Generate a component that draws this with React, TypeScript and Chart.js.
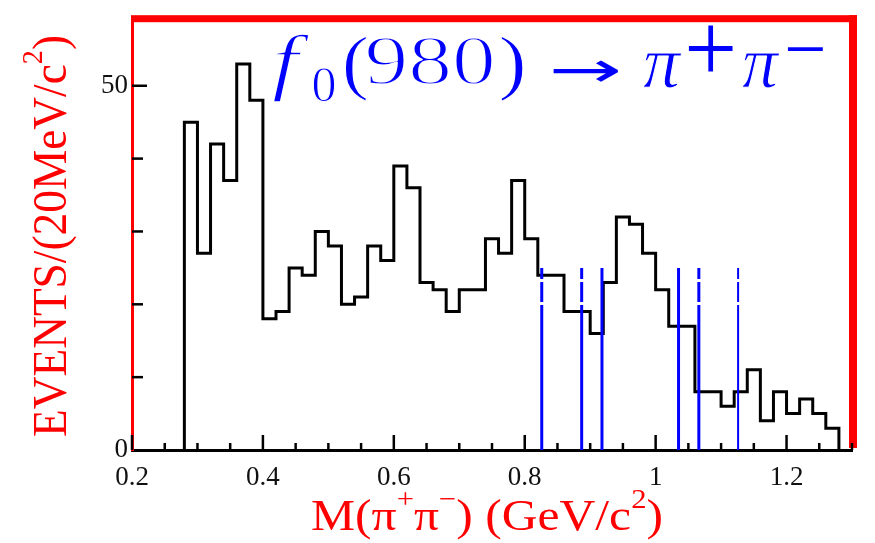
import React, { useEffect, useRef } from 'react';
import { Chart, registerables } from 'chart.js';

Chart.register(...registerables);

// ---- data ----
const binLow = 0.28;
const binWidth = 0.02;
const eventCounts = [
  45, 27, 42, 37, 53, 48, 18, 19, 25, 24,
  30, 28, 20, 21, 28, 26, 39, 36, 23, 22,
  19, 22, 22, 29, 27, 37, 29, 24, 24, 19,
  19, 16, 23, 32, 31, 27, 22, 17, 17, 8,
  8, 6, 8, 11, 4, 8, 5, 7, 5, 3,
];
const cutPositions = [0.826, 0.887, 0.918, 1.035, 1.066, 1.126];
const cutTops = [25, 25, 25, 25, 25, 25];
const cutDashed = [true, true, false, false, true, true];
const cutWidths = [3, 3, 3, 3, 3, 2];
const xTickValues = [0.2, 0.4, 0.6, 0.8, 1.0, 1.2];
const xTickLabels = ['0.2', '0.4', '0.6', '0.8', '1', '1.2'];
const yTickValues = [0, 50];
const yTickLabels = ['0', '50'];
const yMinorTicks = [0, 10, 20, 30, 40, 50];

const RED = '#ff0000';
const BLUE = '#0000ff';

const near = (a: number, b: number) => Math.abs(a - b) < 1e-6;

function xMinorTicks(): number[] {
  const out: number[] = [];
  for (let i = 0; i <= 22; i++) out.push(Math.round((0.2 + i * 0.05) * 1000) / 1000);
  return out;
}

function drawFit(
  ctx: CanvasRenderingContext2D,
  text: string,
  font: string,
  left: number,
  top: number,
  w?: number,
  h?: number,
  thin = 0
) {
  ctx.font = `${font.replace('SIZE', '100px')}`;
  const m = ctx.measureText(text);
  const mh = m.actualBoundingBoxAscent + m.actualBoundingBoxDescent;
  const mw = m.actualBoundingBoxLeft + m.actualBoundingBoxRight;
  const sy = h ? h / mh : w ? w / mw : 1;
  const sx = w ? w / mw : sy;
  ctx.save();
  ctx.translate(left, top);
  ctx.scale(sx, sy);
  ctx.textAlign = 'left';
  ctx.textBaseline = 'alphabetic';
  ctx.fillText(text, m.actualBoundingBoxLeft, m.actualBoundingBoxAscent);
  if (thin > 0) {
    ctx.strokeStyle = '#fff';
    ctx.lineWidth = thin / Math.min(sx, sy);
    ctx.lineJoin = 'round';
    ctx.strokeText(text, m.actualBoundingBoxLeft, m.actualBoundingBoxAscent);
  }
  ctx.restore();
}

type Seg = { t: string; sup?: boolean };

function drawRich(
  ctx: CanvasRenderingContext2D,
  segs: Seg[],
  family: string,
  F: number,
  targetW: number
) {
  const base = `${F}px ${family}`;
  const sup = `${F * 0.62}px ${family}`;
  let W = 0;
  segs.forEach((s) => {
    ctx.font = s.sup ? sup : base;
    W += ctx.measureText(s.t).width;
  });
  ctx.scale(targetW / W, 1);
  ctx.textAlign = 'left';
  ctx.textBaseline = 'alphabetic';
  let cx = 0;
  segs.forEach((s) => {
    ctx.font = s.sup ? sup : base;
    ctx.fillText(s.t, cx, s.sup ? -F * 0.5 : 0);
    cx += ctx.measureText(s.t).width;
  });
}

const decorPlugin = {
  id: 'decor',
  afterDraw(chart: any) {
    const { ctx, chartArea: a, scales } = chart;
    const xs = scales.x;
    const ys = scales.y;
    ctx.save();
    // red frame (top and right)
    ctx.fillStyle = RED;
    ctx.fillRect(a.left - 1, a.top - 5, a.right + 5 - (a.left - 1), 7);
    ctx.fillRect(a.right - 3, a.top - 5, 8, a.bottom - 2 - (a.top - 5));

    // tick marks (inward)
    ctx.strokeStyle = '#000';
    ctx.lineWidth = 2.5;
    xs.ticks.forEach((t: any) => {
      const px = xs.getPixelForValue(t.value);
      const major = xTickValues.some((v) => near(v, t.value));
      ctx.beginPath();
      ctx.moveTo(px, a.bottom);
      ctx.lineTo(px, a.bottom - (major ? 15 : 7));
      ctx.stroke();
    });
    yMinorTicks.forEach((v) => {
      if (v === 0) return;
      const py = ys.getPixelForValue(v);
      const major = yTickValues.includes(v);
      ctx.beginPath();
      ctx.moveTo(a.left, py);
      ctx.lineTo(a.left + (major ? 15 : 11), py);
      ctx.stroke();
    });

    // title f0(980) -> pi+ pi-
    ctx.fillStyle = BLUE;
    const ital = 'italic SIZE "Liberation Serif"';
    const serif = 'SIZE "Liberation Serif"';
    const sans = 'SIZE "DejaVu Sans"';
    drawFit(ctx, 'f', ital, 273, 33, 37, 69, 1.5);
    drawFit(ctx, '0', serif, 313, 67, 22, 35, 1);
    drawFit(ctx, '(', serif, 345, 35, 22, 67, 1);
    drawFit(ctx, '980', serif, 367, 37, 126, 48, 1.8);
    drawFit(ctx, ')', serif, 501, 35, 22, 67, 1);
    drawFit(ctx, '→', sans, 553, 60, 65, 22);
    drawFit(ctx, 'π', ital, 643, 53, 39, 35, 1);
    drawFit(ctx, '+', serif, 688, 25, 45, 47);
    drawFit(ctx, 'π', ital, 742, 53, 38, 35, 1);
    drawFit(ctx, '−', serif, 787, 47, 36, undefined);

    // axis titles
    ctx.fillStyle = RED;
    ctx.save();
    ctx.translate(311, 530);
    drawRich(
      ctx,
      [
        { t: 'M(π' },
        { t: '+', sup: true },
        { t: 'π' },
        { t: '−', sup: true },
        { t: ') (GeV/c' },
        { t: '2', sup: true },
        { t: ')' },
      ],
      '"Liberation Serif"',
      45,
      352
    );
    ctx.restore();

    ctx.save();
    ctx.translate(66, 437);
    ctx.rotate(-Math.PI / 2);
    drawRich(
      ctx,
      [{ t: 'EVENTS/(20MeV/c' }, { t: '2', sup: true }, { t: ')' }],
      '"Liberation Serif"',
      48,
      402
    );
    ctx.restore();

    ctx.restore();
  },
};

export default function App() {
  const ref = useRef<HTMLCanvasElement | null>(null);
  useEffect(() => {
    if (!ref.current) return;
    const histPoints: { x: number; y: number }[] = [{ x: binLow, y: 0 }];
    eventCounts.forEach((c, i) => {
      histPoints.push({ x: binLow + i * binWidth, y: c });
      histPoints.push({ x: binLow + (i + 1) * binWidth, y: c });
    });
    histPoints.push({ x: binLow + eventCounts.length * binWidth, y: 0 });

    const cutSets = cutPositions.map((x, i) => ({
      data: [
        { x, y: cutTops[i] },
        { x, y: 0 },
      ],
      borderColor: BLUE,
      borderWidth: cutWidths[i],
      borderDash: cutDashed[i] ? [11, 3, 20, 3, 2000, 0] : [],
      pointRadius: 0,
      fill: false,
      borderCapStyle: 'butt',
    }));

    const chart = new Chart(ref.current, {
      type: 'line',
      data: {
        datasets: [
          ...cutSets,
          {
            data: histPoints,
            borderColor: '#000',
            borderWidth: 3,
            pointRadius: 0,
            fill: false,
            borderJoinStyle: 'miter',
            borderCapStyle: 'butt',
          },
        ] as any,
      },
      options: {
        animation: false,
        responsive: false,
        maintainAspectRatio: false,
        layout: { padding: { top: 19, right: 23, left: 0, bottom: 0 } },
        plugins: {
          legend: { display: false },
          tooltip: { enabled: false },
          title: { display: false },
        },
        elements: { line: { tension: 0 }, point: { radius: 0 } },
        scales: {
          x: {
            type: 'linear',
            min: 0.2,
            max: 1.3,
            grid: { display: false, drawTicks: false },
            border: { display: true, color: '#000', width: 3 },
            afterBuildTicks: (s: any) => {
              s.ticks = xMinorTicks().map((v) => ({ value: v }));
            },
            afterFit: (s: any) => {
              s.height = 93;
            },
            ticks: {
              autoSkip: false,
              maxRotation: 0,
              minRotation: 0,
              padding: 12,
              color: '#111',
              font: { family: '"Liberation Serif"', size: 27 },
              callback: (v: any) => {
                const i = xTickValues.findIndex((t) => near(t, Number(v)));
                return i >= 0 ? xTickLabels[i] : '';
              },
            },
          },
          y: {
            type: 'linear',
            min: 0,
            max: 59,
            grid: { display: false, drawTicks: false },
            border: { display: true, color: RED, width: 3 },
            afterBuildTicks: (s: any) => {
              s.ticks = yMinorTicks.map((v) => ({ value: v }));
            },
            afterFit: (s: any) => {
              s.width = 132;
            },
            ticks: {
              autoSkip: false,
              padding: 4,
              color: '#111',
              font: { family: '"Liberation Serif"', size: 27 },
              callback: (v: any) => {
                const i = yTickValues.findIndex((t) => near(t, Number(v)));
                return i >= 0 ? yTickLabels[i] : '';
              },
            },
          },
        },
      } as any,
      plugins: [decorPlugin],
    });
    return () => chart.destroy();
  }, []);

  return (
    <div style={{ position: 'fixed', left: 0, top: 0, width: 875, height: 543, background: '#fff' }}>
      <canvas ref={ref} width={875} height={543} style={{ width: 875, height: 543, display: 'block' }} />
    </div>
  );
}
